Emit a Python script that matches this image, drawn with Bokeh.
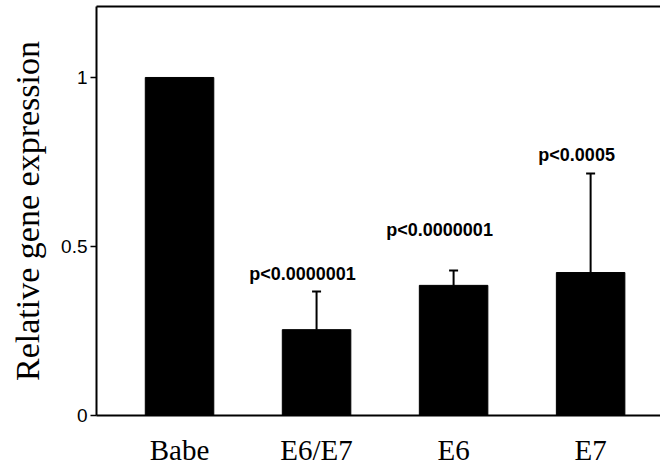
from bokeh.plotting import figure
from bokeh.models import (ColumnDataSource, Range1d, FixedTicker, LinearAxis,
                          Whisker, TeeHead)
from bokeh.core.properties import value
from bokeh.embed import file_html
from bokeh.resources import INLINE

# ---- data ----
categories = ["Babe", "E6/E7", "E6", "E7"]
expression = [1.0, 0.254, 0.385, 0.423]
error_up = [0.0, 0.113, 0.044, 0.293]
pval_cats = ["E6/E7", "E6", "E7"]
pval_text = ["p<0.0000001", "p<0.0000001", "p<0.0005"]
y_ticks = [0, 0.5, 1]
y_tick_labels = ["0", "0.5", "1"]
y_title = "Relative gene expression"

xpos = list(range(len(categories)))
upper = [m + e for m, e in zip(expression, error_up)]

p = figure(width=660, height=470, output_backend="svg", toolbar_location=None,
           x_range=Range1d(-0.606, 3.51), y_range=Range1d(0, 1.21),
           min_border_left=96, min_border_right=0, min_border_top=6,
           min_border_bottom=55, background_fill_color="white",
           border_fill_color="white")
p.outline_line_color = None
p.grid.visible = False

src = ColumnDataSource(dict(x=xpos, top=expression, upper=upper, cat=categories))
p.vbar(x="x", top="top", width=0.5, bottom=0, source=src,
       fill_color="black", line_color="black")

err_src = ColumnDataSource(dict(x=xpos[1:], base=expression[1:], upper=upper[1:]))
w = Whisker(base="x", lower="base", upper="upper", source=err_src,
            dimension="height", line_color="black", line_width=2,
            upper_head=TeeHead(size=9, line_color="black", line_width=2),
            lower_head=None)
p.add_layout(w)

pidx = [categories.index(c) for c in pval_cats]
psrc = ColumnDataSource(dict(x=[xpos[i] for i in pidx],
                             y=[upper[i] for i in pidx],
                             t=pval_text,
                             yo=[-17, -40, -18]))
p.text(x="x", y="y", text="t", source=psrc, x_offset=-14, y_offset="yo",
       text_font=value("Liberation Sans"),
       text_font_style="bold", text_font_size="18px", text_align="center",
       text_baseline="alphabetic", text_color="black")

# axes
xa = p.xaxis[0]
xa.ticker = FixedTicker(ticks=xpos)
xa.major_label_overrides = {i: c for i, c in zip(xpos, categories)}
xa.major_tick_out = 0
xa.major_tick_in = 0
xa.minor_tick_out = 0
xa.minor_tick_in = 0
xa.axis_line_width = 2
xa.major_label_text_font = "Liberation Serif"
xa.major_label_text_font_size = "29px"
xa.major_label_standoff = 18
xa.major_label_text_color = "black"

ya = p.yaxis[0]
ya.ticker = FixedTicker(ticks=y_ticks)
ya.major_label_overrides = {t: l for t, l in zip(y_ticks, y_tick_labels)}
ya.major_tick_out = 6
ya.major_tick_in = 0
ya.minor_tick_out = 0
ya.minor_tick_in = 0
ya.axis_line_width = 2
ya.major_tick_line_width = 1.5
ya.major_label_text_font = "Liberation Sans"
ya.major_label_text_font_size = "19px"
ya.major_label_standoff = 3
ya.major_label_text_color = "black"
ya.axis_label = y_title
ya.axis_label_text_font = "Liberation Serif"
ya.axis_label_text_font_style = "normal"
ya.axis_label_text_font_size = "34px"
ya.axis_label_standoff = 12
ya.axis_label_text_color = "black"

top_axis = LinearAxis(ticker=FixedTicker(ticks=[]), axis_line_width=2,
                      major_tick_out=0, major_tick_in=0, minor_tick_out=0,
                      minor_tick_in=0, major_label_text_font_size="0px",
                      major_label_standoff=0)
p.add_layout(top_axis, "above")

open("out.html", "w").write(file_html(p, INLINE))
